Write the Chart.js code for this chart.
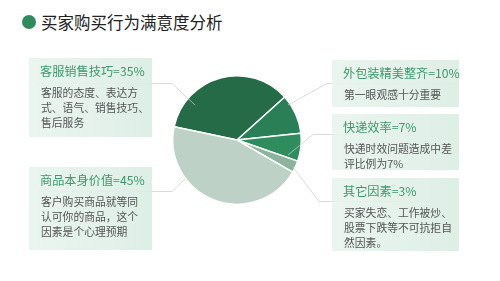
<!DOCTYPE html>
<html>
<head>
<meta charset="utf-8">
<script src="https://cdn.jsdelivr.net/npm/chart.js@4"></script>
<style>
  html, body { margin: 0; padding: 0; background: #fff; }
  body { width: 500px; height: 281px; position: relative; overflow: hidden;
         font-family: "Noto Sans CJK SC", "Noto Sans", sans-serif; }
  #c { position: absolute; left: 0; top: 0; }
  .head { position: absolute; left: 22px; top: 10px; height: 24px; display: flex; align-items: center; }
  .dot { width: 14px; height: 14px; border-radius: 50%; background: #2e8b5e; margin-right: 5px; }
  .head span { font-size: 16.5px; color: #222; }
  .box { position: absolute; box-sizing: border-box; padding: 4px 0 0 11px;
         background: linear-gradient(to right, rgba(232,244,238,0.9), rgba(218,237,227,0.9)); }
  .box .t { font-size: 12.2px; color: #3d9a6d; line-height: 18px; white-space: nowrap; }
  .box .d { font-size: 10.8px; color: #555; line-height: 15px; margin-top: 5px; padding-left: 1px; white-space: nowrap; }
</style>
</head>
<body>
<div class="head"><div class="dot"></div><span>买家购买行为满意度分析</span></div>
<canvas id="c" width="500" height="281"></canvas>
<div id="boxes"></div>
<script>
const labels = ['客服销售技巧', '外包装精美整齐', '快递效率', '其它因素', '商品本身价值'];
const values = [35, 10, 7, 3, 45];
const colors = ['#256b48', '#2b7f57', '#2f8c5f', '#8db39f', '#bdd1c6'];
const notes = [
  '客服的态度、表达方<br>式、语气、销售技巧、<br>售后服务',
  '第一眼观感十分重要',
  '快递时效问题造成中差<br>评比例为7%',
  '买家失恋、工作被炒、<br>股票下跌等不可抗拒自<br>然因素。',
  '客户购买商品就等同<br>认可你的商品，这个<br>因素是个心理预期'
];

// text boxes: left, top, width, height
const boxPos = [
  [29, 58, 123, 79],
  [332, 60, 127, 47],
  [332, 114, 127, 56],
  [332, 178, 127, 73],
  [29, 167, 123, 83]
];
// leader lines
const leaders = [
  [[38, 83.5], [172, 83.5], [195, 105]],
  [[453, 83.5], [327, 83.5], [288, 105]],
  [[350, 134.5], [313, 134.5], [288, 155]],
  [[433, 201.5], [319, 201.5], [293, 167]],
  [[38, 191.5], [172, 191.5], [185, 179]]
];

const boxes = document.getElementById('boxes');
labels.forEach((l, i) => {
  const b = document.createElement('div');
  b.className = 'box';
  const p = boxPos[i];
  b.style.left = p[0] + 'px'; b.style.top = p[1] + 'px';
  b.style.width = p[2] + 'px'; b.style.height = p[3] + 'px';
  b.innerHTML = '<div class="t">' + l + '=' + values[i] + '%</div><div class="d">' + notes[i] + '</div>';
  boxes.appendChild(b);
});

const leaderPlugin = {
  id: 'leaders',
  afterDatasetsDraw(chart) {
    const ctx = chart.ctx;
    ctx.save();
    ctx.strokeStyle = 'rgba(205,205,205,0.75)';
    ctx.lineWidth = 1;
    leaders.forEach(pts => {
      ctx.beginPath();
      ctx.moveTo(pts[0][0], pts[0][1]);
      for (let k = 1; k < pts.length; k++) ctx.lineTo(pts[k][0], pts[k][1]);
      ctx.stroke();
    });
    ctx.restore();
  }
};

new Chart(document.getElementById('c'), {
  type: 'pie',
  data: {
    labels: labels,
    datasets: [{
      data: values,
      backgroundColor: colors,
      borderColor: '#fff',
      borderWidth: 1.5
    }]
  },
  options: {
    responsive: false,
    animation: false,
    rotation: -78,
    layout: { padding: { left: 172, right: 198, top: 75, bottom: 76 } },
    plugins: { legend: { display: false }, tooltip: { enabled: false } }
  },
  plugins: [leaderPlugin]
});
</script>
</body>
</html>
